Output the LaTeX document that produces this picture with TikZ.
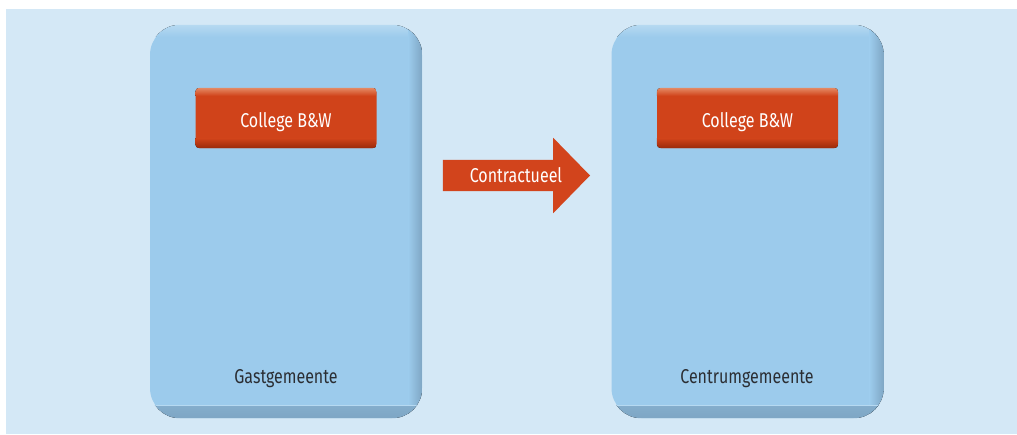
\documentclass[tikz,border=0pt]{standalone}
\usepackage{fontspec}
\setmainfont[FakeStretch=0.8]{Fira Sans}
\usetikzlibrary{positioning}
\definecolor{bgblue}{HTML}{D4E8F6}
\definecolor{boxblue}{HTML}{9CCBEC}
\definecolor{boxdark}{HTML}{7EA6C4}
\definecolor{boxlight}{HTML}{B6D9F1}
\definecolor{bworange}{HTML}{D0431A}
\definecolor{bwlight}{HTML}{E48A64}
\definecolor{bwdark}{HTML}{9A2A0B}
\definecolor{arrowred}{HTML}{D2441C}
\definecolor{labelgray}{HTML}{2B2E33}

\begin{document}
\begin{tikzpicture}[x=1pt,y=-1pt]
\tikzstyle{every node}+=[inner sep=0pt, font=\fontsize{20}{24}\selectfont]
\tikzstyle{gemeente}=[rounded corners=30pt, fill=boxblue, minimum width=272pt, minimum height=393pt]
\tikzstyle{college}=[rounded corners=4pt, fill=bworange, minimum width=181pt, minimum height=60pt]
\tikzstyle{gemeentename}=[anchor=base, text=labelgray]
\useasboundingbox (0,0) rectangle (1017,434);
\fill [bgblue] (6,9) rectangle (1017,434);
% de twee gemeenten
\node [gemeente] (gast) at (286,221.5) {};
\node [gemeente] (centrum) at (747.5,221.5) {};
\foreach \b in {gast,centrum} {
  \begin{scope}
  \clip [rounded corners=30pt] (\b.north west) rectangle (\b.south east);
  \fill [top color=boxlight, bottom color=boxblue] (\b.north west) rectangle ([yshift=-12pt]\b.north east);
  \fill [left color=boxblue, right color=boxdark] ([xshift=-14pt]\b.north east) rectangle (\b.south east);
  \fill [top color=boxdark!80!boxblue, bottom color=boxdark] (\b.south west) rectangle ([yshift=13pt]\b.south east);
  \draw [boxlight, line width=1pt] ([yshift=13pt]\b.south west) -- ([yshift=13pt]\b.south east);
  \end{scope}
}
\node [gemeentename] (gastname) at (286,383) {Gastgemeente};
\node [gemeentename] (centrumname) at (747,383) {Centrumgemeente};
% college B&W
\node [college] (gastbw) at (286,118) {};
\node [college] (centrumbw) at (747.5,118) {};
\foreach \b in {gastbw,centrumbw} {
  \begin{scope}
  \clip [rounded corners=4pt] (\b.north west) rectangle (\b.south east);
  \fill [top color=bwlight, bottom color=bworange] (\b.north west) rectangle ([yshift=-8pt]\b.north east);
  \fill [top color=bworange, bottom color=bwdark] (\b.south west) rectangle ([yshift=10pt]\b.south east);
  \end{scope}
}
\node [anchor=base, text=white] (gastbwtext) at (286,127) {College B\&W};
\node [anchor=base, text=white] (centrumbwtext) at (747.5,127) {College B\&W};
% pijl
\node [minimum width=110pt, minimum height=31pt] (contract) at (498,175.5) {};
\fill [arrowred] (contract.north west) -- (contract.north east) -- ++(0,-22) -- (590,175.5)
  -- ([yshift=-22pt]contract.south east) -- (contract.south east) -- (contract.south west) -- cycle;
\node [anchor=base, text=white] (contracttext) at (516,182) {Contractueel};
\end{tikzpicture}
\end{document}
